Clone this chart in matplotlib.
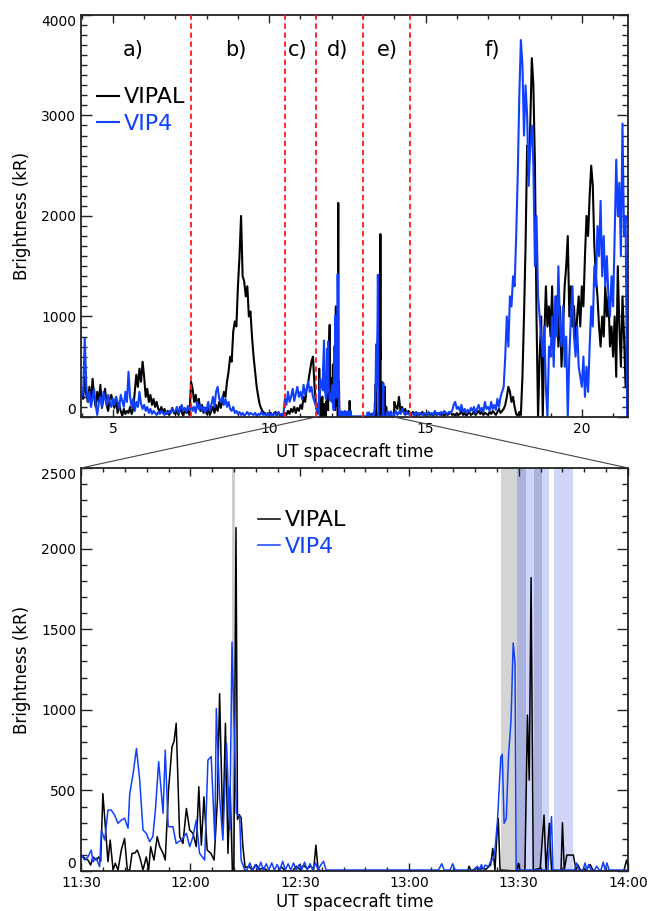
import numpy as np
import matplotlib
matplotlib.use("Agg")
import matplotlib.pyplot as plt
from matplotlib.patches import ConnectionPatch
from matplotlib.ticker import MultipleLocator, FuncFormatter

# ============================================================
# Data (kR)
# ============================================================
# overview, 04:00 - 11:27 UT, one sample every 0.05 h
vipal_a = [250, 180, 400, 220, 150, 300, 120, 380, 200, 100,
           250, 150, 320, 90, 200, 280, 120, 60, 180, 220,
           150, 90, 200, 40, 120, 60, 10, 80, 30, 60,
           40, 100, 30, 80, 250, 420, 300, 480, 350, 550,
           400, 200, 280, 150, 220, 120, 180, 100, 150, 80,
           60, 100, 40, 80, 30, 60, 20, 50, 90, 40,
           30, 70, 20, 100, 50, 10, 80, 40, 60, 20,
           350, 280, 150, 220, 100, 180, 60, 120, 40, 90,
           30, 80, 20, 60, 100, 40, 120, 60, 150, 90,
           150, 250, 200, 350, 450, 600, 550, 850, 950, 900,
           1300, 1600, 2000, 1400, 1350, 1200, 1300, 1000, 1050, 800,
           600, 450, 300, 200, 120, 80, 50, 40, 20, 30,
           20, 40, 10, 30, 50, 20, 40, 10, 30, 20,
           40, 20, 60, 30, 80, 50, 100, 40, 90, 60,
           120, 80, 200, 150, 280, 350, 450, 550, 600, 300]
vip4_a = [200, 250, 780, 300, 150, 250, 100, 200, 280, 120,
          20, 150, 200, 100, 250, 180, 120, 220, 150, 100,
          180, 120, 200, 150, 80, 220, 160, 100, 250, 150,
          450, 200, 100, 180, 60, 150, 100, 250, 130, 80,
          120, 60, 100, 40, 80, 30, 60, 40, 20, 50,
          30, 60, 40, 20, 50, 30, 60, 40, 80, 50,
          60, 100, 40, 80, 120, 60, 90, 50, 110, 70,
          120, 60, 100, 40, 150, 80, 120, 60, 100, 50,
          80, 150, 60, 120, 200, 100, 250, 300, 180, 150,
          200, 120, 180, 100, 150, 80, 60, 100, 40, 60,
          30, 50, 20, 40, 10, 30, 50, 20, 40, 30,
          20, 40, 10, 30, 20, 50, 20, 30, 10, 40,
          20, 30, 10, 40, 20, 30, 50, 20, 30, 10,
          180, 120, 250, 150, 200, 280, 160, 230, 300, 200,
          250, 180, 320, 220, 280, 350, 250, 300, 200, 150]

# overview, 14:00 - 21:27 UT, one sample every 0.05 h
vipal_c = [150, 100, 80, 200, 60, 100, 50, 80, 30, 60,
           40, 20, 50, 30, 10, 40, 20, 30, 50, 20,
           30, 10, 40, 20, 30, 10, 50, 20, 30, 40,
           20, 30, 10, 40, 20, 30, 50, 20, 30, 10,
           40, 20, 30, 60, 20, 40, 10, 30, 50, 20,
           30, 50, 20, 40, 60, 30, 50, 20, 40, 30,
           20, 50, 30, 60, 40, 20, 50, 80, 40, 60,
           80, 120, 200, 300, 250, 150, 200, 100, 30, 10,
           50, 20, 400, 1000, 1700, 2700, 2400, 2900, 3570, 3300,
           2500, 1000, 0, 600, 1000, 0, 800, 1300, 900, 1100,
           800, 1300, 600, 1000, 1200, 700, 1100, 500, 900, 1300,
           1500, 1800, 1000, 1300, 900, 1100, 700, 1000, 1200, 900,
           1300, 1100, 1600, 2000, 1800, 2200, 2500, 2300, 1700, 1400,
           1200, 900, 700, 1000, 800, 1300, 1000, 1200, 700, 900,
           600, 1000, 400, 1500, 900, 500, 1200, 800, 300, 900]
vip4_c = [30, 60, 20, 50, 30, 80, 40, 20, 50, 30,
          20, 40, 30, 10, 50, 20, 40, 30, 20, 40,
          30, 20, 50, 30, 40, 20, 60, 30, 40, 20,
          50, 30, 60, 40, 30, 50, 40, 60, 120, 150,
          80, 100, 60, 120, 50, 80, 40, 70, 50, 90,
          60, 100, 40, 80, 120, 60, 90, 50, 150, 80,
          100, 60, 150, 80, 120, 70, 180, 100, 200, 250,
          300, 600, 1000, 700, 1200, 1100, 1400, 1300, 1800, 2400,
          3200, 3750, 3500, 2800, 3300, 3000, 2300, 2700, 2900, 2500,
          1500, 2000, 1200, 1000, 800, 600, 900, 300, 0, 700,
          600, 1000, 500, 1200, 800, 1500, 900, 700, 1100, 500,
          800, 0, 600, 1000, 1300, 800, 600, 900, 500, 400,
          300, 600, 200, 500, 250, 700, 1100, 900, 1500, 1300,
          1900, 1600, 2150, 1400, 1800, 1300, 1600, 1200, 1000, 1400,
          1100, 1800, 2560, 2000, 2330, 1600, 2920, 1800, 2000, 0]

# zoom 11:30 - 14:00 UT, minutes after 11:30
vipal_min = [0.0, 1.0, 1.9, 2.65, 3.3, 4.2, 4.85, 5.4, 6.0, 6.95,
             7.4, 8.0, 8.8, 9.4, 10.15, 11.05, 11.95, 12.7, 13.35, 14.0,
             14.7, 15.45, 16.1, 17.0, 17.9, 18.55, 19.1, 20.0, 20.9, 21.6,
             22.5, 23.1, 24.0, 24.95, 25.5, 26.1, 27.05, 27.95, 28.9, 29.8,
             30.7, 31.6, 32.3, 33.0, 33.7, 34.6, 35.6, 36.5, 37.4, 38.0,
             38.9, 39.6, 40.3, 40.9, 41.5, 41.9, 42.5, 42.9, 43.4, 43.9,
             44.4, 45.0, 46.0, 47.0, 48.0, 49.0, 50.0, 51.0, 52.0, 54.0,
             55.0, 56.0, 58.0, 59.0, 60.0, 61.0, 62.0, 63.0, 63.8, 64.4,
             65.0, 66.0, 106.0, 106.4, 107.0, 108.5, 109.0, 110.0, 111.0, 112.3,
             112.9, 113.5, 114.0, 114.4, 114.9, 119.5, 119.9, 120.4, 121.7, 122.4,
             122.9, 123.4, 124.0, 125.9, 126.95, 127.5, 128.4, 129.0, 131.6, 132.0,
             132.5, 133.2, 135.0, 135.7, 136.3, 137.0, 138.5, 139.6, 140.5, 148.8,
             149.6, 150.0]
vipal_val = [99, 80, 68, 37, 87, 68, 87, 60, 480, 192,
             58, 192, 6, 48, 6, 130, 202, 6, 6, 110,
             110, 130, 87, 6, 87, 6, 151, 68, 213, 151,
             110, 68, 502, 771, 802, 916, 213, 171, 388, 254,
             234, 151, 523, 161, 460, 130, 110, 68, 440, 1100,
             234, 916, 110, 523, 0, 0, 2130, 320, 350, 330,
             150, 20, 30, 5, 40, 10, 20, 5, 0, 0,
             25, 0, 0, 30, 10, 35, 15, 30, 10, 160,
             10, 0, 0, 30, 0, 20, 0, 20, 10, 37,
             140, 6, 213, 327, 6, 0, 48, 0, 0, 967,
             564, 1820, 6, 16, 347, 6, 296, 6, 0, 300,
             6, 99, 99, 6, 37, 0, 10, 40, 0, 0,
             68, 30]

vip4_min = [0.1, 1.0, 1.9, 2.8, 3.3, 4.2, 5.1, 5.6, 6.5, 7.4,
            8.3, 9.2, 10.15, 11.05, 11.95, 12.9, 13.35, 14.3, 15.2, 16.1,
            17.0, 17.9, 18.8, 19.7, 20.4, 21.3, 22.5, 23.1, 23.9, 25.2,
            26.1, 27.5, 28.9, 29.8, 30.7, 31.6, 32.5, 33.9, 34.8, 35.7,
            36.7, 37.1, 38.0, 38.9, 39.9, 40.8, 41.4, 42.6, 43.5, 43.9,
            44.9, 45.5, 46.3, 47.0, 47.8, 48.5, 49.3, 50.0, 50.8, 51.5,
            52.3, 53.0, 53.8, 54.5, 55.3, 56.0, 56.8, 57.5, 58.3, 59.0,
            59.8, 60.5, 61.3, 62.0, 62.8, 63.5, 64.3, 65.0, 65.8, 66.5,
            67.2, 98.0, 98.9, 99.6, 101.2, 101.9, 102.6, 108.0, 108.6, 109.2,
            109.8, 110.3, 110.8, 111.7, 112.3, 113.1, 113.5, 114.2, 115.1, 115.5,
            116.0, 116.6, 117.2, 117.9, 118.5, 119.0, 119.3, 128.0, 128.6, 129.0,
            129.4, 135.3, 135.9, 136.5, 137.6, 138.2, 138.7, 139.2, 139.8, 140.8,
            141.4, 142.0, 142.6, 143.2, 143.7, 144.2, 144.8, 150.0]
vip4_val = [99, 68, 87, 130, 58, 80, 27, 254, 192, 378,
            378, 347, 296, 316, 327, 265, 477, 605, 760, 564,
            254, 234, 182, 213, 378, 678, 358, 750, 275, 275,
            171, 192, 234, 151, 213, 316, 110, 68, 688, 710,
            192, 1008, 460, 192, 792, 254, 1420, 358, 338, 68,
            6, 6, 50, 6, 40, 6, 55, 6, 45, 6,
            50, 6, 40, 6, 60, 6, 45, 6, 50, 6,
            40, 6, 55, 6, 45, 6, 50, 6, 40, 60,
            6, 6, 45, 6, 6, 45, 6, 6, 30, 10,
            40, 6, 37, 27, 58, 79, 130, 316, 707, 724,
            296, 326, 707, 936, 1415, 1287, 6, 6, 200, 337,
            6, 6, 50, 6, 6, 50, 6, 40, 6, 6,
            30, 6, 6, 55, 6, 50, 6, 6]

period_bounds = [7.5, 10.5, 11.5, 13.0, 14.5]
period_labels = ["a)", "b)", "c)", "d)", "e)", "f)"]
period_label_x = [5.65, 8.94, 10.92, 12.2, 13.77, 17.13]

# shaded intervals in the zoom (minutes after 11:30)
gray_band = (115.2, 119.5)
dark_bands = [(119.5, 122.0), (124.1, 126.4)]
light_bands = [(122.0, 124.1), (126.4, 128.3), (129.6, 134.8)]
gray_line_min = 41.8

BLUE = "#1040ff"
RED = "#ff1a1a"

# ============================================================
# Assemble series
# ============================================================
hours_a = 4.0 + 0.05 * np.arange(len(vipal_a))
hours_c = 14.0 + 0.05 * np.arange(len(vipal_c))
vipal_h = 11.5 + np.array(vipal_min) / 60.0
vip4_h = 11.5 + np.array(vip4_min) / 60.0

vipal_t_all = np.concatenate([hours_a, vipal_h, hours_c])
vipal_all = np.concatenate([vipal_a, vipal_val, vipal_c])
vip4_t_all = np.concatenate([hours_a, vip4_h, hours_c])
vip4_all = np.concatenate([vip4_a, vip4_val, vip4_c])

# ============================================================
# Figure
# ============================================================
plt.rcParams["font.family"] = "DejaVu Sans"
fig = plt.figure(figsize=(6.49, 9.11), dpi=100)
ax1 = fig.add_axes([0.1248, 0.5423, 0.843, 0.4413])
ax2 = fig.add_axes([0.1248, 0.0439, 0.843, 0.4424])


def style_axes(ax):
    for s in ax.spines.values():
        s.set_linewidth(1.3)
        s.set_color("#222222")
    ax.tick_params(which="both", direction="in", top=True, right=True,
                   labelsize=10, width=1.0, color="#222222")
    ax.tick_params(axis="y", which="major", length=8)
    ax.tick_params(axis="y", which="minor", length=4)
    ax.tick_params(axis="x", which="major", length=6)
    ax.tick_params(axis="x", which="minor", length=3)


def legend(ax, anchor):
    ax.legend(loc="upper left", bbox_to_anchor=anchor, fontsize=16,
              frameon=False, handlelength=1.0, handletextpad=0.2,
              labelspacing=0.3, borderpad=0, borderaxespad=0,
              labelcolor="linecolor")


# ---- top panel
ax1.plot(vipal_t_all, vipal_all, color="black", lw=1.5, label="VIPAL")
ax1.plot(vip4_t_all, vip4_all, color=BLUE, lw=1.5, label="VIP4")
for xb in period_bounds:
    ax1.axvline(xb, color=RED, lw=1.3, ls=(0, (3, 2)), zorder=5)
for lab, xl in zip(period_labels, period_label_x):
    ax1.text(xl, 3650, lab, fontsize=15, ha="center", va="center")
ax1.set_xlim(3.98, 21.48)
ax1.set_ylim(0, 4000)
ax1.xaxis.set_major_locator(MultipleLocator(5))
ax1.xaxis.set_minor_locator(MultipleLocator(1))
ax1.yaxis.set_major_locator(MultipleLocator(1000))
ax1.yaxis.set_minor_locator(MultipleLocator(100))
ax1.set_xlabel("UT spacecraft time", fontsize=12, labelpad=5)
ax1.set_ylabel("Brightness (kR)", fontsize=12, labelpad=7)
style_axes(ax1)
legend(ax1, (0.029, 0.82))

# ---- bottom panel
ax2.axvspan(11.5 + gray_band[0] / 60, 11.5 + gray_band[1] / 60,
            color="#d4d4d4", lw=0, zorder=0)
for b in dark_bands:
    ax2.axvspan(11.5 + b[0] / 60, 11.5 + b[1] / 60, color="#abb2de", lw=0, zorder=0)
for b in light_bands:
    ax2.axvspan(11.5 + b[0] / 60, 11.5 + b[1] / 60, color="#d0d5fa", lw=0, zorder=0)
ax2.axvline(11.5 + gray_line_min / 60, color="#cccccc", lw=2, zorder=0)

ax2.plot(vipal_h, vipal_val, color="black", lw=1.1, label="VIPAL")
ax2.plot(vip4_h, vip4_val, color=BLUE, lw=1.1, label="VIP4")
ax2.set_xlim(11.5, 14.0)
ax2.set_ylim(0, 2500)
ax2.xaxis.set_major_locator(MultipleLocator(0.5))
ax2.xaxis.set_minor_locator(MultipleLocator(0.1))
ax2.yaxis.set_major_locator(MultipleLocator(500))
ax2.yaxis.set_minor_locator(MultipleLocator(100))


def hhmm(x, pos):
    h = int(np.floor(x + 1e-6))
    m = int(round((x - h) * 60))
    return f"{h}:{m:02d}"


ax2.xaxis.set_major_formatter(FuncFormatter(hhmm))
ax2.set_xlabel("UT spacecraft time", fontsize=12, labelpad=2)
ax2.set_ylabel("Brightness (kR)", fontsize=12, labelpad=7)
style_axes(ax2)
legend(ax2, (0.324, 0.895))

# ---- zoom connectors
for xa, xb in [(11.5, 0.0), (14.0, 1.0)]:
    con = ConnectionPatch(xyA=(xa, 0), coordsA=ax1.transData,
                          xyB=(xb, 1), coordsB=ax2.transAxes,
                          color="#444444", lw=0.8)
    fig.add_artist(con)

# end labels of the y axes sit inside the axis range
fig.canvas.draw()
for ax in (ax1, ax2):
    ymin, ymax = ax.get_ylim()
    for tick in ax.yaxis.get_major_ticks():
        if abs(tick.get_loc() - ymin) < 1e-6:
            tick.label1.set_va("bottom")
        elif abs(tick.get_loc() - ymax) < 1e-6:
            tick.label1.set_va("top")

fig.savefig("out.png", dpi=100)
